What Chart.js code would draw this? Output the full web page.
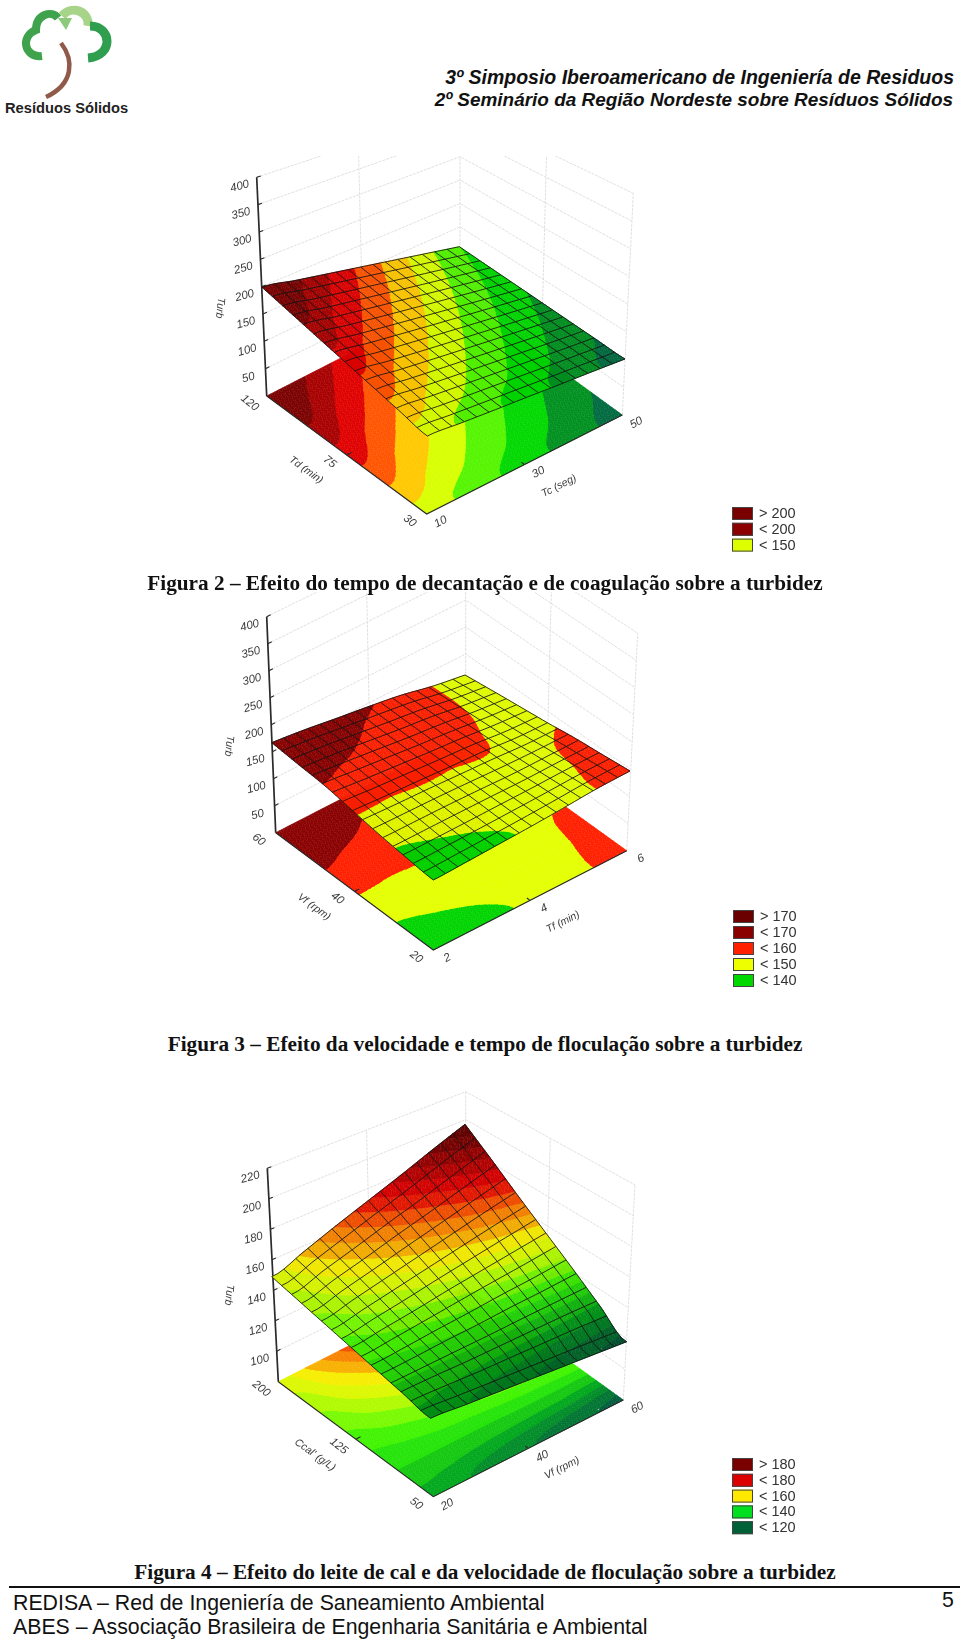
<!DOCTYPE html>
<html lang="pt">
<head>
<meta charset="UTF-8">
<title>Figuras 2, 3 e 4</title>
<script src="https://cdn.jsdelivr.net/npm/chart.js"></script>
<style>
  body{margin:0;background:#fff;width:960px;height:1640px;overflow:hidden;position:relative}
  canvas{position:absolute;left:0}
  .t{position:absolute;white-space:nowrap}
  .cap{font:bold 21.25px "Liberation Serif";color:#111;left:0;width:970px;text-align:center}
  .head{font:italic bold 19.5px "Liberation Sans";color:#111;right:6px}
  .foot{font:21.3px "Liberation Sans";color:#111;left:13px}
</style>
</head>
<body>
<svg class="t" style="left:0;top:0" width="140" height="100" viewBox="0 0 140 100">
  <path d="M42 56 C24 58 20 36 36 30 C36 14 52 10 58 18" fill="none" stroke="#3fa34d" stroke-width="8"/>
  <path d="M62 16 C72 4 90 12 88 26" fill="none" stroke="#a8d48a" stroke-width="9"/>
  <path d="M90 26 C112 26 114 56 88 58" fill="none" stroke="#2f9e4f" stroke-width="9"/>
  <path d="M58 18 L66 30 L72 18 Z" fill="#8cc97a"/>
  <path d="M61 43 C74 60 74 84 46 97" fill="none" stroke="#8f5a4a" stroke-width="4.5"/>
</svg>
<div class="t" style="left:5px;top:100px;font:bold 14.7px 'Liberation Sans';color:#222">Resíduos Sólidos</div>
<div class="t head" style="top:66px">3º Simposio Iberoamericano de Ingeniería de Residuos</div>
<div class="t head" style="top:89px;font-size:18.95px;right:7px">2º Seminário da Região Nordeste sobre Resíduos Sólidos</div>

<canvas id="fig2" width="960" height="416" style="top:156px"></canvas>
<canvas id="fig3" width="960" height="438" style="top:592px"></canvas>
<canvas id="fig4" width="960" height="490" style="top:1070px"></canvas>

<div class="t cap" style="top:571px">Figura 2 – Efeito do tempo de decantação e de coagulação sobre a turbidez</div>
<div class="t cap" style="top:1032px">Figura 3 – Efeito da velocidade e tempo de floculação sobre a turbidez</div>
<div class="t cap" style="top:1560px">Figura 4 – Efeito do leite de cal e da velocidade de floculação sobre a turbidez</div>
<div class="t" style="left:9px;width:951px;top:1586px;border-top:2px solid #111"></div>
<div class="t foot" style="top:1591px">REDISA – Red de Ingeniería de Saneamiento Ambiental</div>
<div class="t foot" style="top:1615px">ABES – Associação Brasileira de Engenharia Sanitária e Ambiental</div>
<div class="t foot" style="left:942px;top:1588px">5</div>

<script>
// turbidity, rows go from the front edge to the back edge
const turbFig2 = [
  [146, 139, 132, 125.5, 118.5, 112, 105],
  [155.8, 147.7, 139.8, 132, 124.2, 116.5, 109.2],
  [165.7, 156.3, 147.3, 138.5, 129.9, 121.4, 113.3],
  [175.5, 165, 155, 145.3, 135.8, 126.5, 117.5],
  [185.3, 174.1, 163.2, 152.5, 142, 131.7, 121.7],
  [195.2, 183.2, 171.5, 160, 148.4, 137, 125.8],
  [205, 192.5, 180, 167.5, 155, 142.5, 130]
];
const turbFig3 = [
  [133, 135.5, 138.5, 141.5, 145.5, 150.1, 152],
  [137.7, 139.5, 141.5, 144, 146.5, 149.6, 151.5],
  [143.6, 145, 146.5, 147, 147, 149, 151.5],
  [151.4, 150.6, 150.7, 150.3, 150.5, 148, 149.4],
  [159.4, 157, 155, 153, 151.8, 149.2, 148.5],
  [163, 162.5, 159.6, 156.5, 154.5, 149.7, 147.5],
  [167, 166, 163, 160.5, 157, 149.8, 146]
];
const turbFig4 = [
  [123, 120.5, 118, 115.5, 113, 110.5, 108],
  [128, 127.5, 126.5, 126, 125.5, 125, 124],
  [133, 134, 135.5, 136.5, 138, 139, 140.5],
  [138, 141, 144, 147.5, 150.5, 153.5, 156.5],
  [143, 148, 153, 158, 163, 168, 172.5],
  [148, 155, 161.5, 168.5, 175, 182, 189],
  [153, 161.5, 170.5, 179, 187.5, 196.5, 205]
];

// contour levels
const levelsFig2 = [110, 120, 130, 140, 150, 160, 170, 180, 190];
const levelsFig3 = [140, 150, 160, 170];
const levelsFig4 = [110, 115, 120, 125, 130, 135, 140, 145, 150, 155, 160, 165, 170, 175, 180, 185, 190, 195, 200];

// tick labels
const zTicksFig2 = [50, 100, 150, 200, 250, 300, 350, 400];
const uTicksFig2 = ['10', '30', '50'];
const vTicksFig2 = ['30', '75', '120'];
const zTicksFig3 = [50, 100, 150, 200, 250, 300, 350, 400];
const uTicksFig3 = ['2', '4', '6'];
const vTicksFig3 = ['20', '40', '60'];
const zTicksFig4 = [100, 120, 140, 160, 180, 200, 220];
const uTicksFig4 = ['20', '40', '60'];
const vTicksFig4 = ['50', '125', '200'];

// legends
const legendFig2 = ['> 200', '< 200', '< 150'];
const legendFig3 = ['> 170', '< 170', '< 160', '< 150', '< 140'];
const legendFig4 = ['> 180', '< 180', '< 160', '< 140', '< 120'];

// band colours, low to high
const bandsFig2 = ['#006a40', '#009020', '#00d800', '#55f500', '#d8ff00', '#ffc800', '#ff5500', '#e00000', '#a80000', '#7b0000'];
const bandsFig3 = ['#00d400', '#e4ff00', '#ff2000', '#8a0000', '#6a0000'];
const bandsFig4 = ['#005c3c', '#007432', '#008c28', '#00a81c', '#14c810', '#24e408', '#40f400', '#78fa00', '#b0fa00', '#dcf800',
  '#f6ee00', '#f8b000', '#f88400', '#f45000', '#e81800', '#d80000', '#b80000', '#980000', '#780000', '#640000'];

const SUB = 48, MESH = 16;

// the 3d box of each figure in page pixels: floor corners, surface corners, wall corners at zMax
const figures = [
  {
    id: 'fig2', top: 156, bottom: 572, grid: turbFig2, levels: levelsFig2, bands: bandsFig2, shade: 0.97, dim: 0, up: 0.55,
    zMin: 0, zMax: 400, zTicks: zTicksFig2, uTicks: uTicksFig2, vTicks: vTicksFig2,
    floor: {F: [426.7, 514], R: [622.3, 415], L: [266.7, 396], B: [460, 297]},
    surf: {F: [427.3, 436], R: [625, 359], L: [262, 287.3], B: [459.3, 246.7]},
    wall: {F: [428, 300], R: [633.3, 193.3], L: [256.7, 177.3], B: [460, 110]},
    titles: {z: ['Turb', 220, 308], v: ['Td (min)', 306, 470], u: ['Tc (seg)', 559, 486]},
    legend: legendFig2, legendColors: ['#7a0000', '#8c0000', '#ddff00'], legendPos: [732, 507, 15.8]
  },
  {
    id: 'fig3', top: 592, bottom: 1030, grid: turbFig3, levels: levelsFig3, bands: bandsFig3, shade: 0.98, dim: 0, up: 0.55,
    zMin: 0, zMax: 400, zTicks: zTicksFig3, uTicks: uTicksFig3, vTicks: vTicksFig3,
    floor: {F: [433.3, 950], R: [626.7, 850.7], L: [275.7, 832.7], B: [465.7, 735]},
    surf: {F: [433.3, 880], R: [630, 771], L: [271.7, 742.7], B: [465, 675]},
    wall: {F: [433, 739], R: [637.7, 633.3], L: [266.7, 616.7], B: [465.7, 519]},
    titles: {z: ['Turb', 229, 746], v: ['Vf (rpm)', 314, 907], u: ['Tf (min)', 563, 922]},
    legend: legendFig3, legendColors: ['#6a0000', '#8a0000', '#ff2000', '#eeff00', '#00d800'], legendPos: [733, 910, 16]
  },
  {
    id: 'fig4', top: 1070, bottom: 1560, grid: turbFig4, levels: levelsFig4, bands: bandsFig4, shade: 0.97, dim: 0.2, up: 1.5,
    zMin: 80, zMax: 220, zTicks: zTicksFig4, uTicks: uTicksFig4, vTicks: vTicksFig4,
    floor: {F: [433.3, 1496.7], R: [623.3, 1400], L: [278.3, 1381.7], B: [465.7, 1286.7]},
    surf: {F: [430.7, 1418.3], R: [626.7, 1341.7], L: [271.7, 1276.7], B: [465, 1124.3]},
    wall: {F: [430, 1240], R: [635, 1185], L: [267.3, 1168.3], B: [465.7, 1091.7]},
    titles: {z: ['Turb', 229, 1295], v: ["Ccal' (g/L)", 315, 1455], u: ['Vf (rpm)', 562, 1468]},
    legend: legendFig4, legendColors: ['#7a0000', '#dd0000', '#ffe800', '#00e020', '#006038'], legendPos: [732, 1458, 15.8]
  }
];

const GAP = {x: null, y: null};

function mix(c, u, v) {
  const x = c.F[0] * (1 - u) * (1 - v) + c.R[0] * u * (1 - v) + c.L[0] * (1 - u) * v + c.B[0] * u * v;
  const y = c.F[1] * (1 - u) * (1 - v) + c.R[1] * u * (1 - v) + c.L[1] * (1 - u) * v + c.B[1] * u * v;
  return {x, y};
}
function wallPt(fig, u, v, z) {
  const a = mix(fig.floor, u, v), b = mix(fig.wall, u, v);
  const k = (z - fig.zMin) / (fig.zMax - fig.zMin);
  return {x: a.x + (b.x - a.x) * k, y: a.y + (b.y - a.y) * k};
}
// catmull-rom through the read values, only so the contours come out round
function cubic(p0, p1, p2, p3, t) {
  return p1 + 0.5 * t * (p2 - p0 + t * (2 * p0 - 5 * p1 + 4 * p2 - p3 + t * (3 * (p1 - p2) + p3 - p0)));
}
function turbAt(grid, u, v) {
  const rows = grid.length - 1, cols = grid[0].length - 1;
  const i = Math.min(Math.floor(v * rows), rows - 1), j = Math.min(Math.floor(u * cols), cols - 1);
  const s = u * cols - j, t = v * rows - i;
  const at = (r, c) => {
    // reflect past the edge of the table
    const rr = Math.max(0, Math.min(rows, r)), cc = Math.max(0, Math.min(cols, c));
    return grid[rr][cc] + (r - rr) * (grid[rr][cc] - grid[rr - Math.sign(r - rr)][cc]) + (c - cc) * (grid[rr][cc] - grid[rr][cc - Math.sign(c - cc)]);
  };
  const row = k => cubic(at(k, j - 1), at(k, j), at(k, j + 1), at(k, j + 2), s);
  return cubic(row(i - 1), row(i), row(i + 1), row(i + 2), t);
}
// surface point: corners of the surface plus the lift of the value above their plane
function surfPt(fig, u, v, z) {
  const g = fig.grid, last = g.length - 1, end = g[0].length - 1;
  const flat = g[0][0] * (1 - u) * (1 - v) + g[0][end] * u * (1 - v) + g[last][0] * (1 - u) * v + g[last][end] * u * v;
  const p = mix(fig.surf, u, v);
  return {x: p.x, y: p.y - (z - flat) * fig.up};
}
function clipAt(poly, level, sign) {
  const out = [];
  poly.forEach((a, i) => {
    const b = poly[(i + 1) % poly.length];
    const ina = (a.z - level) * sign >= 0, inb = (b.z - level) * sign >= 0;
    if (ina) out.push(a);
    if (ina !== inb) {
      const t = (level - a.z) / (b.z - a.z);
      out.push({u: a.u + (b.u - a.u) * t, v: a.v + (b.v - a.v) * t, z: level});
    }
  });
  return out;
}
function darken(hex, k) {
  const n = parseInt(hex.slice(1), 16);
  return 'rgb(' + [n >> 16, (n >> 8) & 255, n & 255].map(c => Math.round(c * k)).join(',') + ')';
}

// one dataset per colour band, its triangles split by null points
function bandDatasets(fig, onSurface) {
  const lists = fig.bands.map(() => []);
  const nodes = [];
  for (let i = 0; i <= SUB; i++) {
    nodes.push([]);
    for (let j = 0; j <= SUB; j++) nodes[i].push({u: j / SUB, v: i / SUB, z: turbAt(fig.grid, j / SUB, i / SUB)});
  }
  for (let i = 0; i < SUB; i++) {
    for (let j = 0; j < SUB; j++) {
      const a = nodes[i][j], b = nodes[i][j + 1], c = nodes[i + 1][j + 1], d = nodes[i + 1][j];
      [[a, b, c], [a, c, d]].forEach(tri => {
        fig.bands.forEach((col, k) => {
          let poly = tri;
          if (k > 0) poly = clipAt(poly, fig.levels[k - 1], 1);
          if (poly.length && k < fig.levels.length) poly = clipAt(poly, fig.levels[k], -1);
          if (poly.length < 3) return;
          poly.forEach(p => lists[k].push(onSurface ? surfPt(fig, p.u, p.v, p.z) : mix(fig.floor, p.u, p.v)));
          lists[k].push(GAP);
        });
      });
    }
  }
  return lists.map((data, k) => {
    const color = onSurface ? darken(fig.bands[k], fig.shade) : fig.bands[k];
    return {data, showLine: true, fill: 'shape', backgroundColor: color, borderColor: color,
      borderWidth: 0.7, borderDash: [5000, 0], pointRadius: 0, spanGaps: false};
  });
}

// darker strips towards the front edge, the lighting of the original surface
function dimDatasets(fig) {
  const out = [];
  if (!fig.dim) return out;
  const pt = (u, v) => surfPt(fig, u, v, turbAt(fig.grid, u, v));
  const strips = 10, reach = 0.4;
  for (let s = 0; s < strips; s++) {
    const v0 = s / strips * reach, v1 = (s + 1) / strips * reach;
    const data = [];
    for (let a = 0; a <= MESH; a++) data.push(pt(a / MESH, v0));
    for (let a = MESH; a >= 0; a--) data.push(pt(a / MESH, v1));
    const alpha = fig.dim * (1 - s / strips);
    out.push({data, showLine: true, fill: 'shape', backgroundColor: 'rgba(0,30,0,' + alpha.toFixed(3) + ')',
      borderWidth: 0, borderDash: [5000, 0], pointRadius: 0, spanGaps: false});
  }
  return out;
}

function meshData(fig) {
  const data = [];
  const pt = (u, v) => surfPt(fig, u, v, turbAt(fig.grid, u, v));
  for (let a = 0; a <= MESH; a++) {
    for (let b = 0; b <= 2 * MESH; b++) data.push(pt(a / MESH, b / (2 * MESH)));
    data.push(GAP);
    for (let b = 0; b <= 2 * MESH; b++) data.push(pt(b / (2 * MESH), a / MESH));
    data.push(GAP);
  }
  return data;
}

function wallData(fig) {
  const data = [];
  const w = (u, v, z) => wallPt(fig, u, v, z);
  fig.zTicks.forEach(z => {
    data.push(w(0, 1, z), w(1, 1, z), w(1, 0, z), GAP);
  });
  [[0.5, 1], [1, 1], [1, 0.5], [1, 0]].forEach(p => {
    data.push(w(p[0], p[1], fig.zMin), w(p[0], p[1], fig.zMax), GAP);
  });
  return data;
}

function axisData(fig) {
  const w = (u, v, z) => wallPt(fig, u, v, z);
  const z0 = fig.zMin;
  const data = [w(0, 1, z0), w(0, 0, z0), w(1, 0, z0), GAP];
  fig.zTicks.forEach(z => data.push(w(0, 1, z), w(0.02, 1, z), GAP));
  data.push(w(0.5, 0, z0), w(0.5, 0.02, z0), GAP, w(0, 0.5, z0), w(0.025, 0.5, z0), GAP);
  return data;
}

// axis titles, tick labels and colour key, placed through the chart scales
const pageLabels = {
  id: 'pageLabels',
  afterDraw(chart, args, opts) {
    const {ctx, scales: {x, y}} = chart;
    const fig = opts.fig;
    const put = (text, px, py, deg) => {
      ctx.save();
      ctx.translate(x.getPixelForValue(px), y.getPixelForValue(py));
      ctx.rotate(deg * Math.PI / 180);
      ctx.fillText(text, 0, 0);
      ctx.restore();
    };
    ctx.save();
    ctx.font = 'italic 11.5px "Liberation Sans"';
    ctx.fillStyle = '#3c3c3c';
    ctx.textAlign = 'center';
    ctx.textBaseline = 'middle';
    fig.zTicks.forEach(z => {
      const p = wallPt(fig, 0, 1, z);
      put(String(z), p.x - 17, p.y + 9, -15);
    });
    fig.uTicks.forEach((t, i) => {
      const p = wallPt(fig, i / (fig.uTicks.length - 1), 0, fig.zMin);
      put(t, p.x + 14, p.y + 8, -28);
    });
    fig.vTicks.forEach((t, i) => {
      const p = wallPt(fig, 0, i / (fig.vTicks.length - 1), fig.zMin);
      put(t, p.x - 17, p.y + 7, 38);
    });
    const tt = fig.titles;
    ctx.font = 'italic 10.5px "Liberation Sans"';
    put(tt.z[0], tt.z[1], tt.z[2], 96);
    put(tt.v[0], tt.v[1], tt.v[2], 36);
    put(tt.u[0], tt.u[1], tt.u[2], -27);
    const [lx, ly, step] = fig.legendPos;
    ctx.font = '14.5px "Liberation Sans"';
    ctx.textAlign = 'left';
    fig.legend.forEach((t, i) => {
      const px = x.getPixelForValue(lx), py = y.getPixelForValue(ly + i * step);
      ctx.fillStyle = fig.legendColors[i];
      ctx.fillRect(px, py, 21, 13);
      ctx.strokeStyle = '#444';
      ctx.lineWidth = 1;
      ctx.strokeRect(px + 0.5, py + 0.5, 20, 12);
      ctx.fillStyle = '#333';
      ctx.fillText(t, px + 27, py + 7);
    });
    ctx.restore();
  }
};

figures.forEach(fig => {
  const line = (data, color, width, dash) => ({data, showLine: true, fill: false, borderColor: color,
    borderWidth: width, borderDash: dash || [], pointRadius: 0, spanGaps: false});
  const datasets = [
    line(wallData(fig), '#e0e0e0', 1, [3, 1]),
    ...bandDatasets(fig, false),
    line(axisData(fig), '#2a2a2a', 1.1),
    line([wallPt(fig, 0, 1, fig.zMin), wallPt(fig, 0, 1, fig.zMax)], '#2a2a2a', 1.7),
    ...bandDatasets(fig, true),
    ...dimDatasets(fig),
    line(meshData(fig), 'rgba(20,20,20,0.85)', 1)
  ];
  datasets.forEach((d, i) => { d.order = datasets.length - i; });
  new Chart(document.getElementById(fig.id), {
    type: 'scatter',
    data: {datasets},
    options: {
      responsive: false,
      animation: false,
      devicePixelRatio: 1,
      events: [],
      layout: {padding: 0},
      scales: {
        x: {type: 'linear', display: false, min: 0, max: 960},
        y: {type: 'linear', display: false, min: fig.top, max: fig.bottom, reverse: true}
      },
      plugins: {legend: {display: false}, tooltip: {enabled: false}, pageLabels: {fig}}
    },
    plugins: [pageLabels]
  });
});
</script>
</body>
</html>
